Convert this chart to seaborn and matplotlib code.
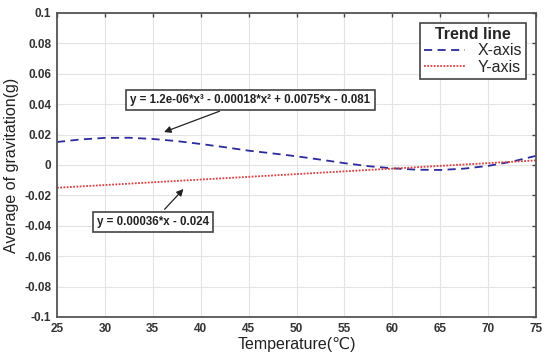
import matplotlib
matplotlib.use('Agg')
import matplotlib.pyplot as plt
import seaborn as sns
import numpy as np
import pandas as pd

# values
temp_x = [25, 27.5, 30, 32.5, 35, 37.5, 40, 42.5, 45, 47.5, 50,
          52.5, 55, 57.5, 60, 62.5, 65, 67.5, 70, 72.5, 75]
x_axis_vals = [0.0151, 0.0168, 0.0178, 0.0179, 0.0171, 0.0157, 0.0138, 0.0117, 0.0094, 0.0076, 0.0057,
               0.0035, 0.0012, -0.0008, -0.0022, -0.0031, -0.0033, -0.0024, -0.0006, 0.0022, 0.0060]
temp_y = [25, 75]
y_axis_vals = [-0.015, 0.003]

xticks = [25, 30, 35, 40, 45, 50, 55, 60, 65, 70, 75]
yticks = [0.1, 0.08, 0.06, 0.04, 0.02, 0, -0.02, -0.04, -0.06, -0.08, -0.1]
ytick_labels = ['0.1', '0.08', '0.06', '0.04', '0.02', '0', '-0.02', '-0.04', '-0.06', '-0.08', '-0.1']

cubic_label = 'y = 1.2e-06*x³ - 0.00018*x² + 0.0075*x - 0.081'
linear_label = 'y = 0.00036*x - 0.024'

df_x = pd.DataFrame({'temp': temp_x, 'g': x_axis_vals})
df_y = pd.DataFrame({'temp': temp_y, 'g': y_axis_vals})

sns.set_style('whitegrid')
plt.rcParams['font.family'] = ['Liberation Sans', 'DejaVu Sans']

fig = plt.figure(figsize=(5.5, 3.59), dpi=100)
ax = fig.add_axes([0.1036, 0.117, 0.871, 0.847])

sns.lineplot(data=df_x, x='temp', y='g', ax=ax, color='#2b2b9c', lw=1.3,
             linestyle=(0, (4.5, 3)), label='X-axis')
sns.lineplot(data=df_y, x='temp', y='g', ax=ax, color='#d84040', lw=1.3,
             linestyle=(0, (1, 0.8)), label='Y-axis')

ax.set_xlim(25, 75)
ax.set_ylim(-0.1, 0.1)
ax.set_xticks(xticks)
ax.set_xticklabels([str(t) for t in xticks])
ax.set_yticks(yticks)
ax.set_yticklabels(ytick_labels)
ax.tick_params(direction='in', length=3, width=1, top=True, right=True,
               labelsize=8.5, labelcolor='#333333', color='#444444', pad=4)
for lbl in ax.get_xticklabels() + ax.get_yticklabels():
    lbl.set_fontweight('bold')
ax.grid(True, color='#e3e3e3', lw=0.8)
for sp in ax.spines.values():
    sp.set_color('#555555')
    sp.set_linewidth(1.3)

ax.set_xlabel('Temperature(℃)', fontsize=11.5, color='#222222', labelpad=2)
ax.set_ylabel('Average of gravitation(g)', fontsize=11.5, color='#222222', labelpad=4)

leg = ax.legend(title='Trend line', loc='upper right', fontsize=11.5, frameon=True,
                fancybox=False, edgecolor='#444444', framealpha=1, handlelength=2.6,
                borderpad=0.25, labelspacing=0.1, borderaxespad=0.6)
leg.get_title().set_fontweight('bold')
leg.get_title().set_fontsize(11.5)
leg.get_frame().set_linewidth(1.2)

box = dict(boxstyle='square,pad=0.35', fc='white', ec='#444444', lw=1.2)
arrow = dict(arrowstyle='-|>', color='#222222', lw=0.9, mutation_scale=10)
ax.annotate(cubic_label, xy=(35.9, 0.021), xytext=(45.2, 0.043), fontsize=8.3,
            fontweight='bold', color='#222222', ha='center', va='center',
            bbox=box, arrowprops=arrow)
ax.annotate(linear_label, xy=(38.4, -0.0145), xytext=(35.0, -0.0375), fontsize=8.3,
            fontweight='bold', color='#222222', ha='center', va='center',
            bbox=box, arrowprops=arrow)

fig.savefig('out.png', dpi=100)
